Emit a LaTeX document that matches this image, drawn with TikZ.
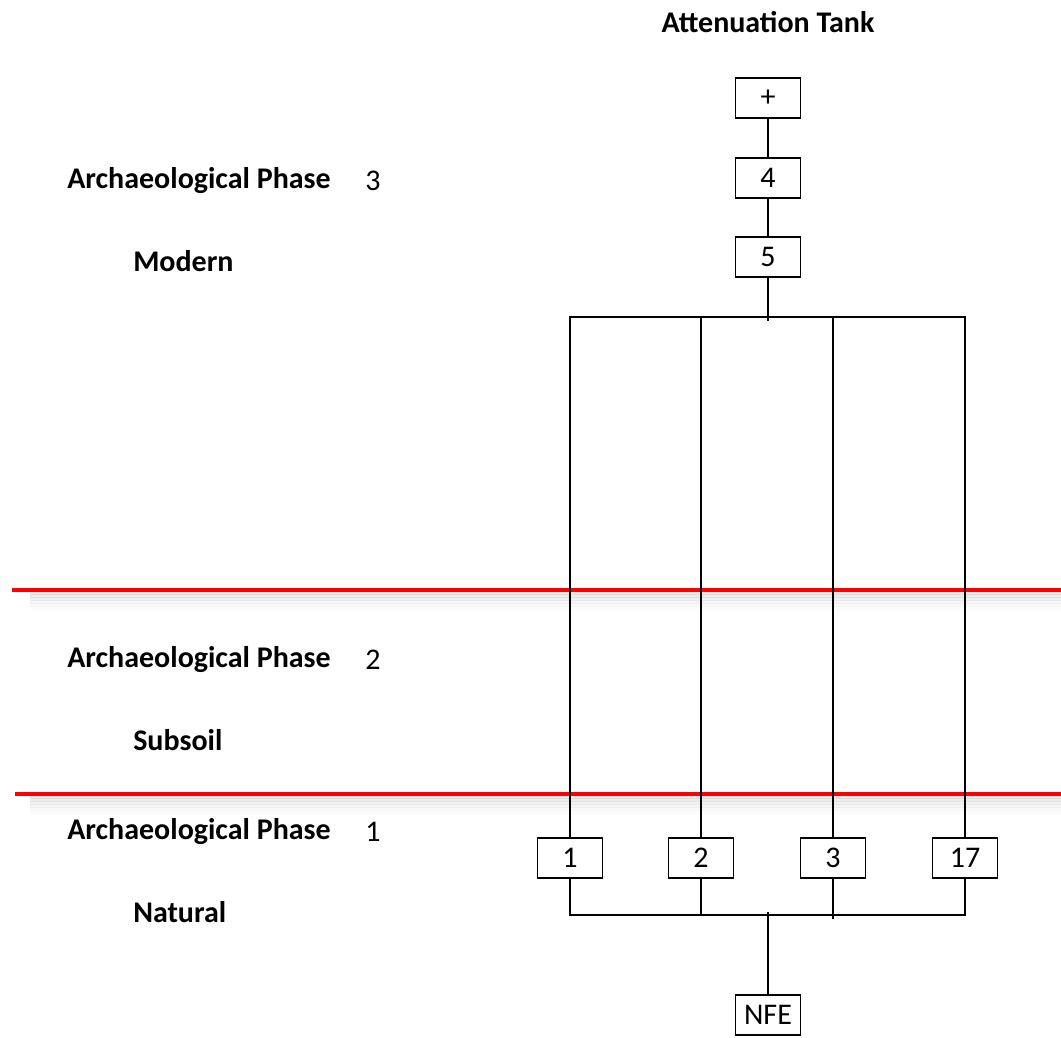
\documentclass[tikz,border=0pt]{standalone}
\usepackage{fontspec}
\setmainfont{Carlito}
\tikzset{
  unit/.style = {draw, line width=1.4pt, minimum width=48.75pt, minimum height=30pt, inner sep=0pt, font=\fontsize{22.5}{27}\selectfont},
  lbl/.style = {anchor=west, inner sep=0pt, font=\fontsize{22.5}{27}\selectfont\bfseries},
  num/.style = {inner sep=0pt, font=\fontsize{22.5}{27}\selectfont},
  link/.style = {line width=1.4pt},
  phaseline/.style = {draw=red, line width=2.3pt}
}
\begin{document}
\begin{tikzpicture}[x=0.75pt, y=-0.75pt]
\useasboundingbox (0,0) rectangle (1061,1038);
% phase boundaries with shadow
\foreach \d/\o in {3/0.16, 6/0.14, 9/0.11, 12/0.08, 15/0.05, 18/0.03}
{
\draw [gray, line width=2.5pt, opacity=\o] (30,590+\d) -- (1061,590+\d);
\draw [gray, line width=2.5pt, opacity=\o] (30,794+\d) -- (1061,794+\d);
}
\draw [phaseline] (12,590) -- (1061,590);
\draw [phaseline] (15,794) -- (1061,794);
% labels
\node [lbl, anchor=center] (tank) at (768,22) {Attenuation Tank};
\node [lbl] (ph3) at (67,181) {Archaeological Phase};
\node [num] (ph3n) at (373,181) {3};
\node [lbl] (modern) at (133,261) {Modern};
\node [lbl] (ph2) at (67,660) {Archaeological Phase};
\node [num] (ph2n) at (373,660) {2};
\node [lbl] (subsoil) at (133,740) {Subsoil};
\node [lbl] (ph1) at (67,832) {Archaeological Phase};
\node [num] (ph1n) at (373,832) {1};
\node [lbl] (natural) at (133,912) {Natural};
% contexts
\node [unit] (plus) at (768,98) {+};
\node [unit] (c4) at (768,178) {4};
\node [unit] (c5) at (768,257) {5};
\node [unit] (c1) at (570,858) {1};
\node [unit] (c2) at (701,858) {2};
\node [unit] (c3) at (833,858) {3};
\node [unit] (c17) at (965,858) {17};
\node [unit] (nfe) at (768,1015) {NFE};
\coordinate (topbus) at (768,317);
\coordinate (lowbus) at (768,915);
% connectors
\draw [link] (plus) -- (c4);
\draw [link] (c4) -- (c5);
\draw [link] (c5) -- ([yshift=-3pt]topbus);
\draw [link] (c1) |- (topbus) -| (c17);
\draw [link] (c2) -- (c2 |- topbus);
\draw [link] (c3) -- (c3 |- topbus);
\draw [link] (c1) |- (lowbus) -| (c17);
\draw [link] (c2) -- (c2 |- lowbus);
\draw [link] (c3) -- ([yshift=-3pt]c3 |- lowbus);
\draw [link] ([yshift=2pt]lowbus) -- (nfe);
\end{tikzpicture}
\end{document}
